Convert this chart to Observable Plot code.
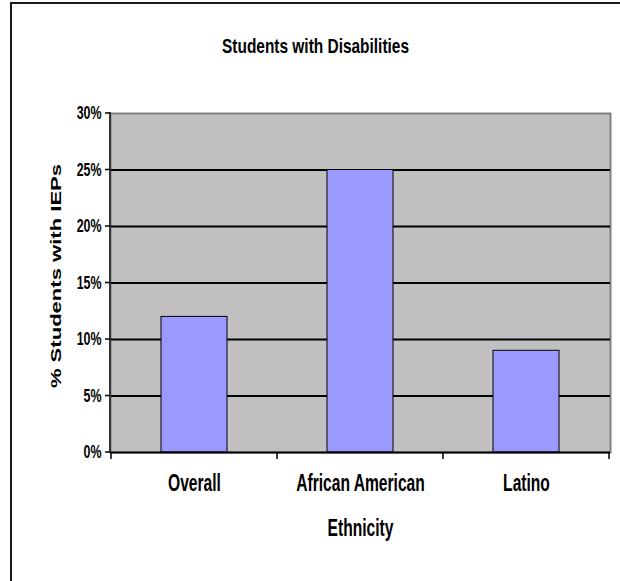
<!DOCTYPE html>
<html><head><meta charset="utf-8">
<script src="https://cdn.jsdelivr.net/npm/d3@7"></script>
<script src="https://cdn.jsdelivr.net/npm/@observablehq/plot@0.6"></script>
<style>
html,body{margin:0;padding:0;background:#fff;color:#000;}
#wrap{position:relative;width:620px;height:581px;overflow:hidden;}
#border{position:absolute;left:10px;top:2px;width:700px;height:700px;border:2px solid #1a1a1a;box-sizing:border-box;}
#chart{position:absolute;left:0;top:0;}
</style></head><body>
<div id="wrap"><div id="border"></div><div id="chart"></div></div>
<script>
const categories = ["Overall", "African American", "Latino"];
const values = [0.12, 0.25, 0.09];
const yTicks = [0, 0.05, 0.10, 0.15, 0.20, 0.25, 0.30];
const title = "Students with Disabilities";
const xTitle = "Ethnicity";
const yTitle = "% Students with IEPs";

const data = categories.map((c, i) => ({category: c, value: values[i]}));
const font = "'Liberation Sans', Arial, sans-serif";
const fmt = d3.format(".0%");

const plot = Plot.plot({
  width: 620, height: 581,
  marginLeft: 110, marginRight: 10, marginTop: 113, marginBottom: 129,
  style: {fontFamily: font, background: "transparent", overflow: "visible", color: "#000"},
  x: {domain: categories, paddingInner: 0.6, paddingOuter: 0.3, axis: null},
  y: {domain: [0, 0.30], axis: null},
  marks: [
    Plot.frame({fill: "#c0c0c0", stroke: "#808080", strokeWidth: 2}),
    Plot.ruleY(yTicks.filter(t => t > 0 && t < 0.30), {stroke: "#000", strokeWidth: 2}),
    Plot.barY(data, {x: "category", y: "value", fill: "#9999ff", stroke: "#000", strokeWidth: 1}),
    Plot.ruleY([0], {stroke: "#000", strokeWidth: 2}),
    Plot.text(yTicks, {y: d => d, text: d => fmt(d), frameAnchor: "left", textAnchor: "end", dx: -9, fontSize: 18, fontWeight: "bold", fontFamily: font, fill: "#000"}),
    Plot.text(categories, {x: d => d, text: d => d, frameAnchor: "bottom", textAnchor: "middle", dy: 38, fontSize: 24, fontWeight: "bold", fontFamily: font, fill: "#000"}),
    Plot.text([xTitle], {text: d => d, frameAnchor: "bottom", textAnchor: "middle", dy: 83, fontSize: 24, fontWeight: "bold", fontFamily: font, fill: "#000"}),
    Plot.text([yTitle], {text: d => d, frameAnchor: "left", textAnchor: "middle", rotate: -90, dx: -54, dy: -7, fontSize: 15, fontWeight: "bold", fontFamily: font, fill: "#000"}),
    Plot.text([title], {text: d => d, frameAnchor: "top", textAnchor: "middle", dx: -45, dy: -75, fontSize: 21, fontWeight: "bold", fontFamily: font, fill: "#000"})
  ]
});

document.getElementById("chart").appendChild(plot);
const svg = d3.select(plot);

// horizontal compression of the condensed lettering, per text role
const squeezeFor = new Map();
yTicks.forEach(t => squeezeFor.set(fmt(t), 0.69));
categories.forEach(c => squeezeFor.set(c, 0.65));
squeezeFor.set(xTitle, 0.65);
squeezeFor.set(title, 0.735);
squeezeFor.set(yTitle, 1.47);
svg.selectAll("text").each(function() {
  const k = squeezeFor.get(this.textContent);
  if (k == null) return;
  const L = this.getComputedTextLength();
  if (!(L > 0)) return;
  this.setAttribute("textLength", L * k);
  this.setAttribute("lengthAdjust", "spacingAndGlyphs");
});

// axis lines and tick marks from the plot's own scales
const xs = plot.scale("x"), ys = plot.scale("y");
const bw = typeof xs.bandwidth === "function" ? xs.bandwidth() : xs.bandwidth;
const step = typeof xs.step === "function" ? xs.step() : xs.step;
const x0 = Math.min(...xs.range);
const bounds = categories.map(c => xs.apply(c) - (step - bw) / 2);
bounds.push(xs.apply(categories[categories.length - 1]) + bw + (step - bw) / 2);
const yBottom = ys.apply(0), yTop = ys.apply(0.30);

const g = svg.append("g").attr("aria-label", "axes");
g.append("line").attr("x1", x0).attr("x2", x0).attr("y1", yTop - 1).attr("y2", yBottom)
  .attr("stroke", "#333").attr("stroke-width", 2);
g.selectAll("line.yt").data(yTicks).join("line").attr("class", "yt")
  .attr("x1", x0 - 5).attr("x2", x0).attr("y1", d => ys.apply(d)).attr("y2", d => ys.apply(d))
  .attr("stroke", "#000").attr("stroke-width", 1.5);
g.selectAll("line.xt").data(bounds).join("line").attr("class", "xt")
  .attr("x1", d => d).attr("x2", d => d).attr("y1", yBottom).attr("y2", yBottom + 7)
  .attr("stroke", "#000").attr("stroke-width", 1.5);
</script>
</body></html>
